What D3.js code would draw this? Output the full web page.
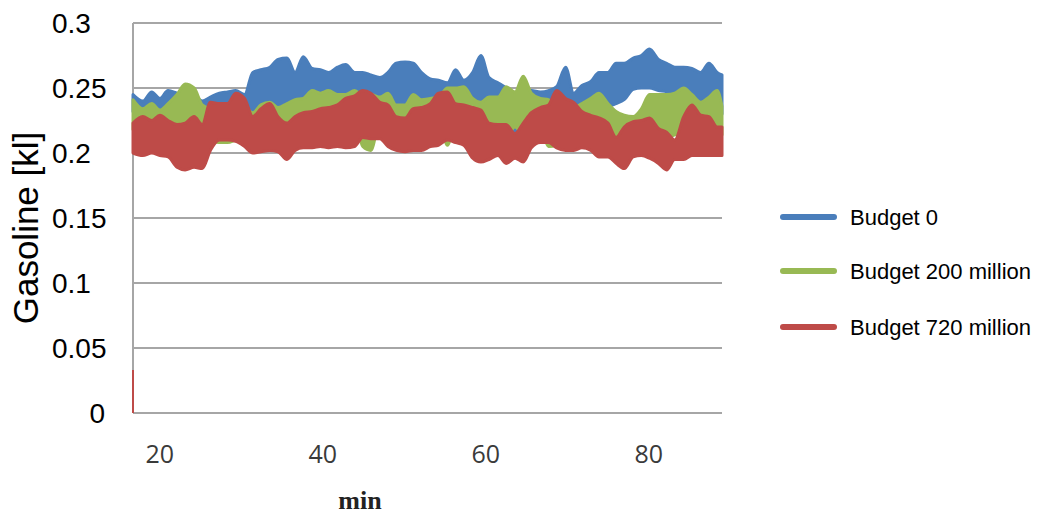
<!DOCTYPE html>
<html>
<head>
<meta charset="utf-8">
<script src="https://cdn.jsdelivr.net/npm/d3@7/dist/d3.min.js"></script>
<style>
  body { margin: 0; background: #ffffff; }
  svg text { font-family: "Liberation Sans", Arial, sans-serif; }
</style>
</head>
<body>
<div id="chart"></div>
<script>
const minutes = [
  16.7, 17.9, 19.0, 20.0, 21.0, 22.1, 23.1, 24.2, 25.2, 26.2,
  27.3, 28.3, 29.3, 30.4, 31.4, 32.4, 33.5, 34.5, 35.6, 36.6,
  37.6, 38.7, 39.7, 40.7, 41.8, 42.8, 43.9, 44.9, 45.9, 47.0,
  48.0, 49.0, 50.1, 51.1, 52.1, 53.2, 54.2, 55.3, 56.3, 57.3,
  58.4, 59.4, 60.4, 61.5, 62.5, 63.6, 64.6, 65.6, 66.7, 67.7,
  68.7, 69.8, 70.8, 71.8, 72.9, 73.9, 75.0, 76.0, 77.0, 78.1,
  79.1, 80.1, 81.2, 82.2, 83.2, 84.3, 85.3, 86.4, 87.4, 88.4,
  89.0
];

// Budget 0 (upper / lower edge of the noisy trace)
const budget0High = [
  .245, .240, .247, .242, .248, .246, .244, .244, .240, .243,
  .246, .247, .248, .245, .262, .264, .266, .272, .273, .262,
  .274, .265, .264, .262, .266, .268, .262, .262, .260, .258,
  .262, .269, .270, .269, .262, .257, .256, .254, .264, .256,
  .262, .275, .258, .254, .250, .244, .245, .248, .247, .248,
  .251, .266, .246, .252, .255, .262, .262, .269, .269, .273,
  .275, .280, .272, .269, .266, .266, .265, .262, .269, .262,
  .260
];
const budget0Low = [
  .232, .232, .234, .235, .235, .236, .236, .236, .232, .234,
  .236, .236, .236, .232, .231, .232, .234, .232, .238, .236,
  .236, .240, .238, .240, .238, .238, .240, .240, .238, .236,
  .238, .238, .236, .238, .236, .236, .238, .240, .240, .242,
  .236, .232, .234, .232, .228, .212, .226, .236, .236, .236,
  .232, .234, .236, .238, .237, .236, .236, .238, .241, .249,
  .250, .250, .248, .247, .240, .238, .236, .232, .234, .232,
  .230
];

// Budget 200 million
const budget200High = [
  .241, .234, .238, .233, .238, .245, .253, .250, .237, .234,
  .232, .232, .234, .235, .231, .237, .239, .235, .238, .241,
  .242, .248, .246, .248, .245, .245, .248, .244, .245, .243,
  .246, .237, .237, .245, .241, .242, .243, .250, .250, .251,
  .242, .239, .243, .243, .251, .247, .259, .246, .242, .241,
  .235, .237, .235, .238, .242, .246, .238, .232, .229, .228,
  .234, .245, .245, .245, .246, .250, .245, .239, .243, .248,
  .236
];
const budget200Low = [
  .218, .222, .220, .222, .220, .218, .220, .222, .218, .209,
  .208, .208, .210, .212, .220, .222, .224, .218, .220, .222,
  .224, .226, .226, .228, .228, .228, .226, .205, .202, .224,
  .222, .218, .216, .222, .224, .224, .228, .206, .224, .222,
  .220, .218, .212, .210, .212, .220, .214, .218, .220, .205,
  .206, .224, .224, .220, .218, .216, .214, .210, .212, .218,
  .218, .216, .212, .212, .214, .216, .220, .218, .216, .214,
  .214
];

// Budget 720 million
const budget720High = [
  .223, .228, .225, .229, .225, .222, .223, .228, .222, .239,
  .238, .238, .246, .242, .228, .234, .238, .228, .223, .228,
  .231, .232, .234, .235, .237, .242, .244, .248, .246, .239,
  .237, .228, .227, .234, .235, .238, .246, .247, .238, .237,
  .235, .233, .223, .222, .222, .215, .223, .231, .235, .237,
  .248, .242, .239, .232, .229, .227, .223, .212, .220, .224,
  .225, .227, .219, .216, .210, .228, .237, .229, .228, .220,
  .220
];
const budget720Low = [
  .200, .198, .200, .198, .197, .189, .187, .189, .188, .202,
  .210, .210, .209, .205, .200, .201, .202, .201, .195, .202,
  .204, .204, .205, .204, .205, .204, .205, .212, .211, .211,
  .205, .202, .201, .202, .202, .205, .206, .210, .208, .206,
  .196, .193, .195, .198, .192, .196, .193, .204, .208, .208,
  .204, .202, .202, .204, .202, .197, .197, .192, .188, .197,
  .198, .196, .192, .187, .195, .195, .198, .198, .198, .198,
  .198
];

// the red trace starts from zero at the first minute
const startMinute = [16.7, 16.7];
const startValues = [0, 0.033];

const seriesNames = ["Budget 0", "Budget 200 million", "Budget 720 million"];
const yTicks = [0, 0.05, 0.1, 0.15, 0.2, 0.25, 0.3];
const yTickLabels = ["0", "0.05", "0.1", "0.15", "0.2", "0.25", "0.3"];
const xTicks = [20, 40, 60, 80];
const xDomain = [16.7, 89.0];

class BandChart {
  constructor(config) {
    this.settings = {
      targetElement: config.targetElement,
      width: config.width || 1037,
      height: config.height || 514,
      plot: { left: 133, right: 722, top: 23, bottom: 413 },
      colors: ["#4A7EBB", "#98B954", "#BE4B48"],
      grid: "#A6A6A6"
    };
    this.series = [
      { name: seriesNames[0], high: budget0High, low: budget0Low },
      { name: seriesNames[1], high: budget200High, low: budget200Low },
      { name: seriesNames[2], high: budget720High, low: budget720Low }
    ];
    this.initializeChart();
  }

  initializeChart() {
    let chart = this;
    let s = chart.settings;

    chart.svg = d3.select(s.targetElement)
      .append("svg")
      .attr("width", s.width)
      .attr("height", s.height);

    chart.x = d3.scaleLinear().domain(xDomain).range([s.plot.left, s.plot.right]);
    chart.y = d3.scaleLinear().domain([0, 0.3]).range([s.plot.bottom, s.plot.top]);

    chart.drawGrid();
    chart.drawBands();
    chart.drawLabels();
    chart.drawLegend();
  }

  drawGrid() {
    let chart = this;
    let s = chart.settings;

    chart.svg.append("g")
      .selectAll("line.grid")
      .data(yTicks)
      .join("line")
      .attr("class", "grid")
      .attr("x1", s.plot.left)
      .attr("x2", s.plot.right)
      .attr("y1", (d) => chart.y(d))
      .attr("y2", (d) => chart.y(d))
      .attr("stroke", s.grid)
      .attr("stroke-width", 2);

    // vertical axis line
    chart.svg.append("line")
      .attr("x1", chart.x(xDomain[0]))
      .attr("x2", chart.x(xDomain[0]))
      .attr("y1", chart.y(0))
      .attr("y2", chart.y(0.3))
      .attr("stroke", s.grid)
      .attr("stroke-width", 2);
  }

  drawBands() {
    let chart = this;
    let s = chart.settings;

    const area = d3.area()
      .curve(d3.curveMonotoneX)
      .x((d) => chart.x(d.m))
      .y0((d) => chart.y(d.lo))
      .y1((d) => chart.y(d.hi));

    chart.series.forEach((ser, i) => {
      const rows = minutes.map((m, k) => ({ m: m, hi: ser.high[k], lo: ser.low[k] }));
      chart.svg.append("path")
        .datum(rows)
        .attr("d", area)
        .attr("fill", s.colors[i])
        .attr("stroke", s.colors[i])
        .attr("stroke-width", 3)
        .attr("stroke-linejoin", "round");
    });

    // start of the red trace
    chart.svg.append("path")
      .datum(startMinute.map((m, k) => [m, startValues[k]]))
      .attr("d", d3.line().x((d) => chart.x(d[0])).y((d) => chart.y(d[1])))
      .attr("stroke", s.colors[2])
      .attr("stroke-width", 2)
      .attr("fill", "none");
  }

  drawLabels() {
    let chart = this;

    // y tick labels
    chart.svg.append("g")
      .selectAll("text")
      .data(yTicks)
      .join("text")
      .attr("x", (d) => (d === 0 ? 105 : 52))
      .attr("y", (d) => chart.y(d))
      .attr("dy", "0.36em")
      .attr("text-anchor", (d) => (d === 0 ? "end" : "start"))
      .style("font-size", "28px")
      .style("fill", "#000")
      .text((d, i) => yTickLabels[i]);

    // x tick labels
    chart.svg.append("g")
      .selectAll("text")
      .data(xTicks)
      .join("text")
      .attr("x", (d) => chart.x(d))
      .attr("y", 463)
      .attr("text-anchor", "middle")
      .style("font-family", "'Open Sans', sans-serif")
      .style("font-size", "25px")
      .style("fill", "#3a3a3a")
      .text((d) => d);

    // axis titles
    chart.svg.append("text")
      .attr("transform", "translate(38,228) rotate(-90)")
      .attr("text-anchor", "middle")
      .style("font-size", "35px")
      .style("fill", "#000")
      .text("Gasoline [kl]");

    chart.svg.append("text")
      .attr("x", 360)
      .attr("y", 509)
      .attr("text-anchor", "middle")
      .style("font-family", "'Liberation Serif', serif")
      .style("font-weight", "bold")
      .style("font-size", "26px")
      .style("fill", "#222")
      .text("min");
  }

  drawLegend() {
    let chart = this;
    let s = chart.settings;
    const rowY = [217, 271, 327];

    const items = chart.svg.append("g")
      .selectAll("g.legend")
      .data(seriesNames)
      .join("g")
      .attr("class", "legend")
      .attr("transform", (d, i) => `translate(0,${rowY[i]})`);

    items.append("line")
      .attr("x1", 783)
      .attr("x2", 834)
      .attr("stroke", (d, i) => s.colors[i])
      .attr("stroke-width", 6)
      .attr("stroke-linecap", "round");

    items.append("text")
      .attr("x", 850)
      .attr("dy", "0.36em")
      .style("font-size", "22px")
      .style("fill", "#000")
      .text((d) => d);
  }
}

new BandChart({ targetElement: "#chart" });
</script>
</body>
</html>
